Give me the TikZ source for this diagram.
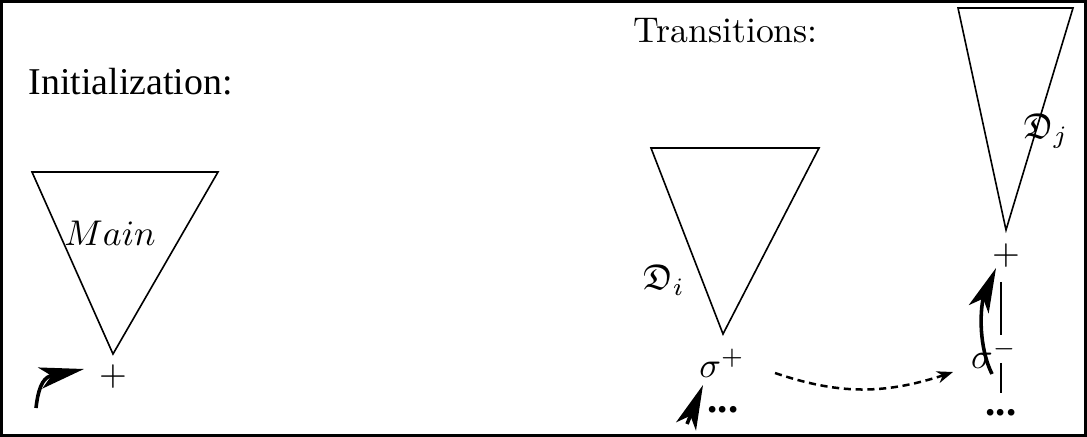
\documentclass[tikz,border=0pt]{standalone}
\usepackage{amsmath,amssymb}
\usepackage{fontspec}
\newfontfamily\timesfont{Liberation Serif}
\usepackage{tikz}
\usetikzlibrary{positioning,arrows.meta,bending,calc}
\tikzset{
  frame/.style={line width=0.8pt},
  tri/.style={line width=0.45pt},
  bigarr/.style={-{Stealth[length=12.5pt,width=6pt,inset=3.2pt]},line width=1pt},
  dasharr/.style={-{Stealth[length=4.5pt,width=3.4pt]},line width=0.7pt,dash pattern=on 2pt off 1.3pt},
  vln/.style={line width=0.45pt},
  lbl/.style={inner sep=1pt},
  ttl/.style={anchor=base west,inner sep=0pt},
}
\newcommand{\bdots}{{\timesfont\bfseries\fontsize{11.5}{12}\selectfont ...}}

\begin{document}
\begin{tikzpicture}[x=0.28pt,y=-0.28pt]
  \useasboundingbox (0,0) rectangle (1087,437);
  \draw[frame] (1.5,1.5) rectangle (1085.5,435.5);
  % initialization
  \node[ttl,font=\timesfont\fontsize{10.6}{12}\selectfont] (init) at (28,95) {Initialization:};
  \coordinate (mainL) at (32,172);
  \coordinate (mainR) at (218,172);
  \coordinate (mainT) at (113,354);
  \draw[tri] (mainL) -- (mainR) -- (mainT) -- cycle;
  \node[lbl] (mainLbl) at (110,233) {$Main$};
  \node[lbl] (plusM) at (113,377) {$+$};
  \coordinate (aM0) at (36,408);
  \coordinate (aM1) at (84,369);
  \draw[bigarr] (aM0) .. controls (38,390) and (42,379) .. (50,376) -- (aM1);
  % transitions
  \node[ttl] (trans) at (633,43) {Transitions:};
  \coordinate (diL) at (651,148);
  \coordinate (diR) at (819,148);
  \coordinate (diT) at (723,334);
  \draw[tri] (diL) -- (diR) -- (diT) -- cycle;
  \node[lbl] (diLbl) at (664,280) {$\mathfrak{D}_i$};
  \node[lbl] (sp) at (722,363) {$\sigma^+$};
  \node[inner sep=0pt,anchor=base] (dotsI) at (723,412) {\bdots};
  \coordinate (aI0) at (687,424);
  \coordinate (aI1) at (703,385);
  \draw[bigarr] (aI0) -- (aI1);
  \coordinate (dA) at (775,373);
  \coordinate (dB) at (953,372);
  \draw[dasharr] (dA) to[bend right=19] (dB);
  \coordinate (djL) at (958,8);
  \coordinate (djR) at (1073,8);
  \coordinate (djT) at (1006,230);
  \draw[tri] (djL) -- (djR) -- (djT) -- cycle;
  \node[lbl] (djLbl) at (1046,131) {$\mathfrak{D}_j$};
  \node[lbl] (pj) at (1006,256) {$+$};
  \node[lbl] (sm) at (994,354) {$\sigma^-$};
  \node[inner sep=0pt,anchor=base] (dotsJ) at (1001,415) {\bdots};
  \coordinate (l1a) at (1001,282);
  \coordinate (l1b) at (1001,335);
  \coordinate (l2a) at (1001,363);
  \coordinate (l2b) at (1001,393);
  \draw[vln] (l1a) -- (l1b);
  \draw[vln] (l2a) -- (l2b);
  \coordinate (aJ0) at (992,374);
  \coordinate (aJ1) at (996,268);
  \draw[bigarr] (aJ0) .. controls (981,352) and (979,320) .. (983,299) -- (aJ1);
\end{tikzpicture}
\end{document}
